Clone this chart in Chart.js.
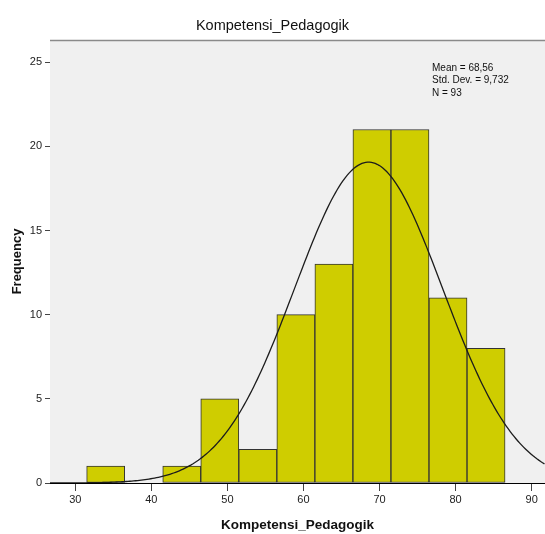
<!DOCTYPE html>
<html>
<head>
<meta charset="utf-8">
<title>Kompetensi_Pedagogik</title>
<script src="https://cdn.jsdelivr.net/npm/chart.js@4"></script>
<style>
  html, body { margin: 0; padding: 0; background: #fff; }
  #wrap { width: 545px; height: 534px; }
</style>
</head>
<body>
<div id="wrap"><canvas id="histChart" width="545" height="534"></canvas></div>
<script>
// data histogram (lebar kelas 5)
const binCenters = [34, 39, 44, 49, 54, 59, 64, 69, 74, 79, 84];
const frequencies = [1, 0, 1, 5, 2, 10, 13, 21, 21, 11, 8];
const xTickValues = [30, 40, 50, 60, 70, 80, 90];
const yTickValues = [0, 5, 10, 15, 20, 25];

// statistik deskriptif
const meanValue = 68.56;
const stdDev = 9.732;
const nCount = 93;
const binWidth = 5;
const statLines = ['Mean = 68,56', 'Std. Dev. = 9,732', 'N = 93'];

const xMin = 26.68, xMax = 91.75;
const yMin = 0, yMax = 26.32;

// kurva normal dari mean, sd, N
const curvePoints = [];
for (let x = xMin; x <= xMax + 0.001; x += 0.25) {
    const z = (x - meanValue) / stdDev;
    const y = nCount * binWidth / (stdDev * Math.sqrt(2 * Math.PI)) * Math.exp(-0.5 * z * z);
    curvePoints.push({ x: x, y: y });
}

const FONT = "'Liberation Sans', Arial, sans-serif";

const plotDecor = {
    id: 'plotDecor',
    beforeDatasetsDraw(chart) {
        const { ctx, chartArea: a } = chart;
        ctx.save();
        ctx.fillStyle = '#f0f0f0';
        ctx.fillRect(a.left, a.top, a.right - a.left, a.bottom - a.top);
        ctx.restore();
    },
    afterDraw(chart) {
        const { ctx, chartArea: a } = chart;
        ctx.save();
        // garis atas area plot
        ctx.strokeStyle = '#8a8a8a';
        ctx.lineWidth = 1.5;
        ctx.beginPath();
        ctx.moveTo(a.left, a.top + 0.5);
        ctx.lineTo(a.right, a.top + 0.5);
        ctx.stroke();
        // teks statistik
        ctx.fillStyle = '#111';
        ctx.font = '10px ' + FONT;
        ctx.textBaseline = 'middle';
        ctx.textAlign = 'left';
        statLines.forEach((t, i) => ctx.fillText(t, 432, 68 + i * 12.5));
        ctx.restore();
    }
};

new Chart(document.getElementById('histChart'), {
    type: 'bar',
    data: {
        datasets: [
            {
                type: 'bar',
                order: 1,
                data: binCenters.map((c, i) => ({ x: c, y: frequencies[i] })),
                backgroundColor: '#cfcd00',
                borderColor: '#333',
                borderWidth: 1,
                borderSkipped: false,
                barPercentage: 1,
                categoryPercentage: 1
            },
            {
                type: 'line',
                order: 0,
                data: curvePoints,
                borderColor: '#1c1c1c',
                borderWidth: 1.3,
                pointRadius: 0,
                tension: 0,
                fill: false
            }
        ]
    },
    options: {
        responsive: false,
        animation: false,
        devicePixelRatio: 1,
        layout: { padding: 0 },
        plugins: {
            legend: { display: false },
            tooltip: { enabled: false },
            title: {
                display: true,
                text: 'Kompetensi_Pedagogik',
                color: '#111',
                font: { family: FONT, size: 14.5, weight: 'normal', lineHeight: 1.2 },
                padding: { top: 17, bottom: 5.6 }
            }
        },
        scales: {
            x: {
                type: 'linear',
                min: xMin,
                max: xMax,
                offset: false,
                afterFit(scale) { scale.height = 51; },
                afterBuildTicks(scale) { scale.ticks = xTickValues.map(v => ({ value: v })); },
                ticks: { color: '#222', font: { family: FONT, size: 11 }, padding: 2, maxRotation: 0 },
                grid: { drawOnChartArea: false, offset: false, tickLength: 8, tickColor: '#444' },
                border: { display: true, color: '#000', width: 1 },
                title: {
                    display: true,
                    text: 'Kompetensi_Pedagogik',
                    color: '#111',
                    font: { family: FONT, size: 13.5, weight: 'bold', lineHeight: 1.2 },
                    padding: { top: 0, bottom: 1 }
                }
            },
            y: {
                type: 'linear',
                min: yMin,
                max: yMax,
                afterFit(scale) { scale.width = 50; },
                afterBuildTicks(scale) { scale.ticks = yTickValues.map(v => ({ value: v })); },
                ticks: { color: '#222', font: { family: FONT, size: 11 }, padding: 3 },
                grid: { drawOnChartArea: false, tickLength: 5, tickColor: '#444' },
                border: { display: true, color: '#000', width: 1 },
                title: {
                    display: true,
                    text: 'Frequency',
                    color: '#111',
                    font: { family: FONT, size: 13, weight: 'bold', lineHeight: 1.2 },
                    padding: { top: 10, bottom: 0 }
                }
            }
        }
    },
    plugins: [plotDecor]
});
</script>
</body>
</html>
